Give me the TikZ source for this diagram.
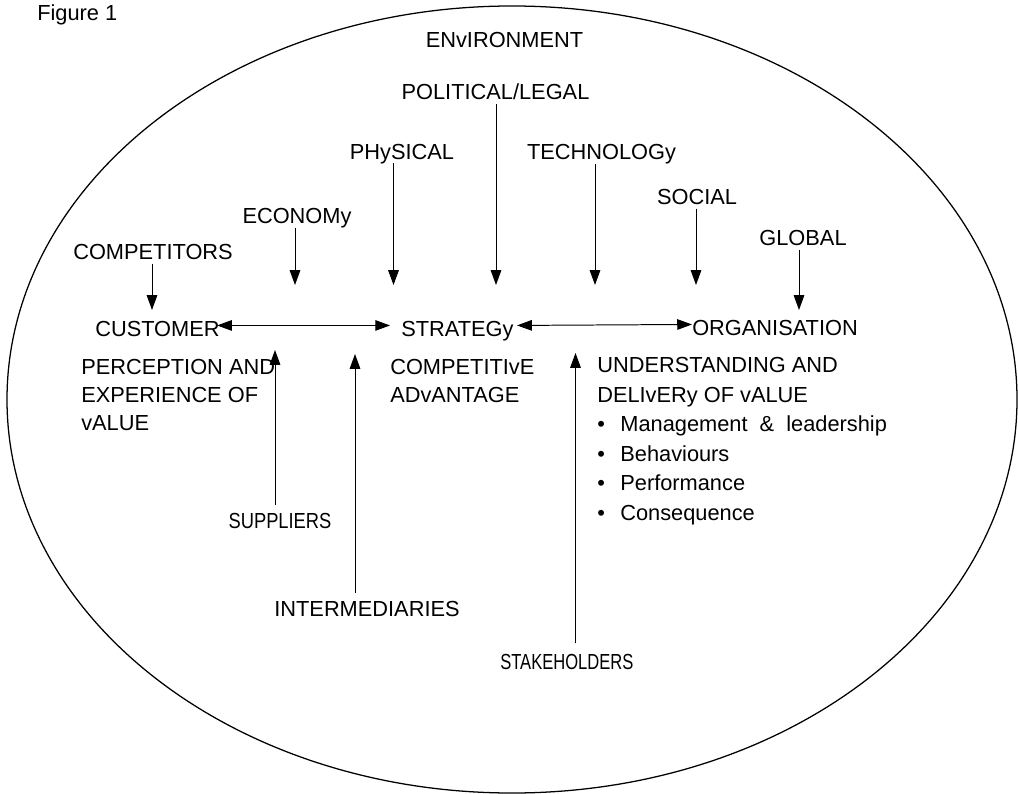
\documentclass[tikz,border=0pt]{standalone}
\usepackage{fontspec}
\usepackage{graphicx}
\setmainfont{Liberation Sans}
\usetikzlibrary{arrows.meta}

\begin{document}
\begin{tikzpicture}
[x=0.025cm,y=-0.025cm,
 txt/.style={inner sep=0pt,font=\fontsize{15.5}{20}\selectfont},
 tag/.style={txt,text height=11pt,text depth=0pt},
 para/.style={txt,align=left,anchor=north west},
 link/.style={line width=0.7pt,shorten <=3pt,-{Triangle[length=10.5pt,width=7.5pt]}},
 rise/.style={link,shorten <=5pt},
 twoway/.style={line width=0.7pt,{Triangle[length=10.5pt,width=7.5pt]}-{Triangle[length=10.5pt,width=7.5pt]}}]

\useasboundingbox (0,0) rectangle (1018,794);
\draw[line width=0.9pt] (512,399.5) ellipse [x radius=505, y radius=393.5];

\node[txt, anchor=base west] (fig) at (37,21) {Figure 1};
\node[tag, anchor=base] (env) at (504.5,48) {ENvIRONMENT};
\node[tag, anchor=base] (pol) at (495.5,100) {POLITICAL/LEGAL};
\node[tag, anchor=base] (phys) at (402,159) {PHySICAL};
\node[tag, anchor=base] (tech) at (601.5,160) {TECHNOLOGy};
\node[tag, anchor=base] (econ) at (297,223) {ECONOMy};
\node[tag, anchor=base] (soc) at (697,204) {SOCIAL};
\node[tag, anchor=base] (glob) at (803,245) {GLOBAL};
\node[tag, anchor=base] (comp) at (153,259) {COMPETITORS};

\node[tag, anchor=base west] (cust) at (95,336) {CUSTOMER};
\node[tag, anchor=base west] (strat) at (401,336) {STRATEGy};
\node[tag, anchor=base west] (org) at (692,335) {ORGANISATION};

\node[para] (perc) at (81,359) {PERCEPTION AND\\EXPERIENCE OF\\vALUE};
\node[para] (adv) at (390,359) {COMPETITIvE\\ADvANTAGE};
\node[para, font=\fontsize{15.5}{21}\selectfont] (deliv) at (597,357)
  {UNDERSTANDING AND\\DELIvERy OF vALUE\\
   \textbullet\hspace{11pt}Management \ \& \ leadership\\
   \textbullet\hspace{11pt}Behaviours\\
   \textbullet\hspace{11pt}Performance\\
   \textbullet\hspace{11pt}Consequence};

\node[tag, anchor=base] (supp) at (280,528) {\scalebox{0.84}[1]{SUPPLIERS}};
\node[tag, anchor=base] (inter) at (367,616) {INTERMEDIARIES};
\node[tag, anchor=base west] (stake) at (500,669) {\scalebox{0.76}[1]{STAKEHOLDERS}};

\coordinate (comp-tip) at (152,310);
\coordinate (econ-tip) at (295,285);
\coordinate (phys-tip) at (393.5,285);
\coordinate (pol-tip) at (496,285);
\coordinate (tech-tip) at (595,285);
\coordinate (soc-tip) at (696,285);
\coordinate (glob-tip) at (799,310);
\coordinate (supp-tip) at (275,350);
\coordinate (inter-tip) at (355,354);
\coordinate (stake-tip) at (575.5,353);

\path[link]
  (comp.south -| comp-tip) edge (comp-tip)
  (econ.south -| econ-tip) edge (econ-tip)
  (phys.south -| phys-tip) edge (phys-tip)
  (pol.south -| pol-tip) edge (pol-tip)
  (tech.south -| tech-tip) edge (tech-tip)
  (soc.south -| soc-tip) edge (soc-tip)
  (glob.south -| glob-tip) edge (glob-tip);

\path[rise]
  (supp.north -| supp-tip) edge (supp-tip)
  (inter.north -| inter-tip) edge (inter-tip)
  (stake.north -| stake-tip) edge[shorten <=7pt] (stake-tip);

\draw[twoway, shorten <=-2pt, shorten >=7.8pt]
  ([yshift=7.5pt]cust.base east) -- ([yshift=7.5pt]strat.base west);
\draw[twoway, shorten <=2.3pt]
  ([yshift=7.5pt]strat.base east) -- ([yshift=7.5pt]org.base west);
\end{tikzpicture}
\end{document}
